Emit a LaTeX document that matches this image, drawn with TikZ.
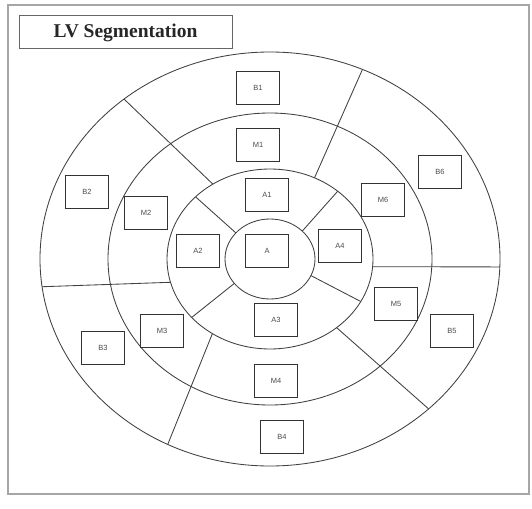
\documentclass[tikz,border=0pt]{standalone}
\usepackage{fontspec}
\setmainfont{Liberation Serif}
\newfontfamily\lblfont{Liberation Sans}
\begin{document}
\begin{tikzpicture}[x=1pt,y=-1pt,
  ring/.style={draw=black!75,line width=0.85pt},
  divline/.style={draw=black!75,line width=0.85pt},
  seg/.style={draw=black!80,fill=white,line width=1.1pt,minimum width=43pt,minimum height=33pt,inner sep=0pt,
    font=\lblfont\fontsize{7.5}{8}\selectfont,text=black!70},
  titlebox/.style={draw=black!60,line width=1pt,minimum width=213pt,minimum height=33pt,inner sep=0pt,
    font=\fontsize{19.5}{21}\selectfont\bfseries,text=black!85},
  frame/.style={draw=black!35,line width=1.6pt}]
\useasboundingbox (0,0) rectangle (532,508);
\fill[white] (0,0) rectangle (532,508);
\draw[frame] (8,5) rectangle (529,494);
\node[titlebox] (title) at (125.5,32.5) {LV Segmentation};
\coordinate (c) at (270,259);
% rings
\draw[ring] (c) ellipse [x radius=230,y radius=207];
\draw[ring] (c) ellipse [x radius=162,y radius=146];
\draw[ring] (c) ellipse [x radius=103,y radius=90];
\draw[ring] (c) ellipse [x radius=45,y radius=40];
% dividing lines, in a y-up frame centred on c
\begin{scope}[shift={(c)},yscale=-1]
  % inner ring to outer ring
  \draw[divline] ({103*cos(123.7)},{90*sin(123.7)}) -- ({230*cos(129.4)},{207*sin(129.4)});
  \draw[divline] ({103*cos(64.4)},{90*sin(64.4)}) -- ({230*cos(66.3)},{207*sin(66.3)});
  \draw[divline] ({103*cos(-4.9)},{90*sin(-4.9)}) -- ({230*cos(-2.2)},{207*sin(-2.2)});
  \draw[divline] ({103*cos(-49.7)},{90*sin(-49.7)}) -- ({230*cos(-46.4)},{207*sin(-46.4)});
  \draw[divline] ({103*cos(236)},{90*sin(236)}) -- ({230*cos(243.6)},{207*sin(243.6)});
  \draw[divline] ({103*cos(195)},{90*sin(195)}) -- ({230*cos(187.7)},{207*sin(187.7)});
  % core to inner ring
  \draw[divline] ({45*cos(139.3)},{40*sin(139.3)}) -- ({103*cos(136.3)},{90*sin(136.3)});
  \draw[divline] ({45*cos(44.2)},{40*sin(44.2)}) -- ({103*cos(48.9)},{90*sin(48.9)});
  \draw[divline] ({45*cos(-24.5)},{40*sin(-24.5)}) -- ({103*cos(-28.2)},{90*sin(-28.2)});
  \draw[divline] ({45*cos(217.6)},{40*sin(217.6)}) -- ({103*cos(220.5)},{90*sin(220.5)});
\end{scope}
% segment labels
\node[seg] (b1) at (258,88) {B1};
\node[seg] (m1) at (258,145) {M1};
\node[seg] (a1) at (267,195) {A1};
\node[seg] (a) at (267,251) {A};
\node[seg] (a2) at (198,251) {A2};
\node[seg] (a4) at (340,246) {A4};
\node[seg] (a3) at (276,320) {A3};
\node[seg] (m2) at (146,213) {M2};
\node[seg] (b2) at (87,192) {B2};
\node[seg] (m6) at (383,200) {M6};
\node[seg] (b6) at (440,172) {B6};
\node[seg] (m5) at (396,304) {M5};
\node[seg] (b5) at (452,331) {B5};
\node[seg] (m3) at (162,331) {M3};
\node[seg] (b3) at (103,348) {B3};
\node[seg] (m4) at (276,381) {M4};
\node[seg] (b4) at (282,437) {B4};
\end{tikzpicture}
\end{document}
